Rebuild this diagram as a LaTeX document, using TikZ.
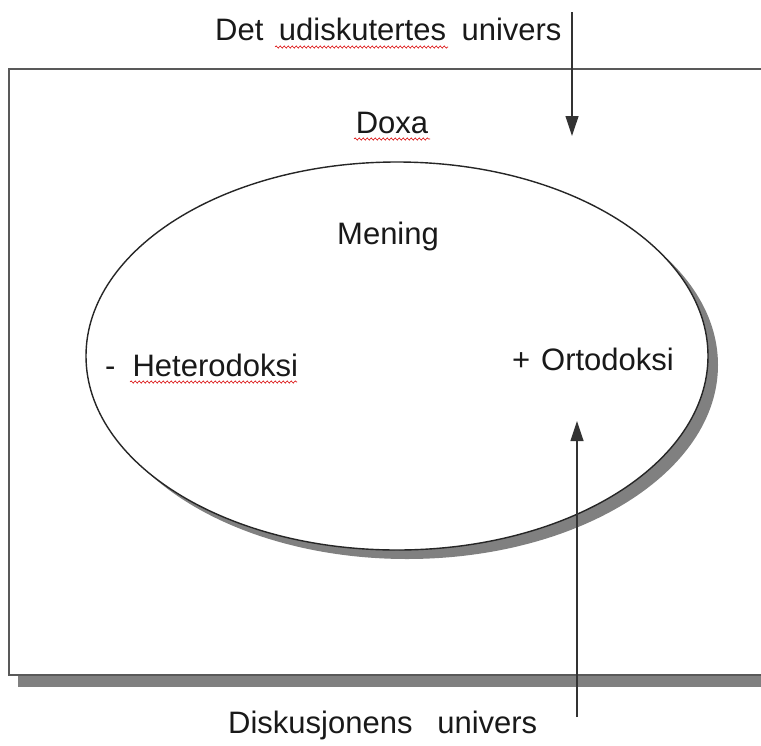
\documentclass[tikz,border=0pt]{standalone}
\usepackage{fontspec}
\setmainfont{Liberation Sans}
\usetikzlibrary{arrows.meta,decorations.pathmorphing}
\begin{document}
\begin{tikzpicture}[x=1pt,y=-1pt,
  lbl/.style={font=\fontsize{31}{36}\selectfont, inner sep=0pt, anchor=base west, text=black!90},
  frame/.style={draw=black!65, line width=1.6pt, fill=white},
  shade/.style={fill=black!50, draw=none},
  oval/.style={draw=black!85, line width=1.4pt, fill=white},
  arr/.style={draw=black!80, line width=1.2pt, -{Triangle[length=20pt,width=13pt]}},
  squig/.style={draw=red!85!black, line width=0.6pt, decorate, decoration={snake,amplitude=1.1pt,segment length=4pt}}]
\useasboundingbox (0,0) rectangle (761,745);
\clip (0,0) rectangle (761,745);
% outer frame with shadow
\fill[shade] (18,80) rectangle (790,687);
\draw[frame] (9,69) rectangle (780,675);
% ellipse with shadow
\fill[shade] (407,365) ellipse [x radius=311, y radius=194];
\draw[oval] (397,356) ellipse [x radius=311, y radius=194];
% arrows
\coordinate (topS) at (572,12);
\coordinate (topE) at (572,136);
\coordinate (botS) at (577,717);
\coordinate (botE) at (577,421);
\draw[arr] (topS) -- (topE);
\draw[arr] (botS) -- (botE);
% texts
\node[lbl] (udisk) at (215,40) {Det\hskip0.5em udiskutertes\hskip0.5em univers};
\node[lbl, anchor=base] (doxa) at (392,133) {Doxa};
\node[lbl] (mening) at (337,244) {Mening};
\node[lbl] (hetero) at (105,376) {-\hskip0.55em Heterodoksi};
\node[lbl] (orto) at (512,370) {+\hskip0.35em Ortodoksi};
\node[lbl] (disk) at (228,733) {Diskusjonens\hskip0.8em univers};
% spell-check squiggles
\draw[squig] (275,47) -- (448,47);
\draw[squig] (354,139) -- (430,139);
\draw[squig] (130,382) -- (297,382);
\end{tikzpicture}
\end{document}
